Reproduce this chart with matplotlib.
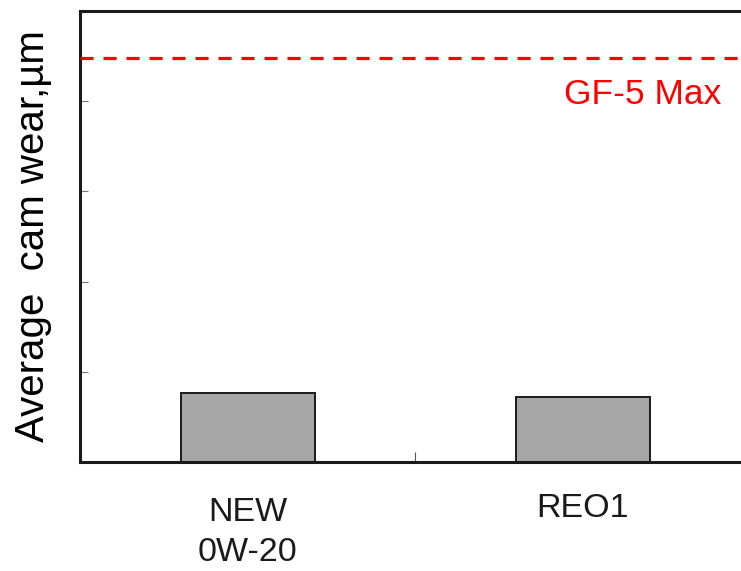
import matplotlib
matplotlib.use("Agg")
import matplotlib.pyplot as plt
from matplotlib.ticker import FixedLocator, NullFormatter
from matplotlib.transforms import ScaledTranslation

plt.rcParams['font.family'] = ['Liberation Sans', 'DejaVu Sans']

categories = ["NEW\n0W-20", "REO1"]
cam_wear = [15.3, 14.4]          # average cam wear, µm
gf5_max = 89.5                   # GF-5 limit, µm
y_ticks = [0, 20, 40, 60, 80, 100]

W, H = 741, 571
fig = plt.figure(figsize=(W / 100, H / 100), dpi=100)
ax = fig.add_axes([80 / W, (H - 462) / H, (750 - 80) / W, (462 - 11) / H])

positions = [0.5, 1.5]
ax.bar(positions, cam_wear, width=0.4, color="#a6a6a6",
       edgecolor="#1a1a1a", linewidth=1.4, zorder=2)

ax.axhline(gf5_max, color="#ff0000", linestyle=(0, (4.1, 3.1)), linewidth=2.3, zorder=3)
ax.text(1.445, gf5_max - 4.4, "GF-5 Max", color="#ff0000", fontsize=25.5,
        ha="left", va="top")

ax.set_xlim(0, 2)
ax.set_ylim(y_ticks[0], y_ticks[-1])

ax.set_xticks(positions)
ax.set_xticklabels(categories, fontsize=24.5, linespacing=1.38)
ax.tick_params(axis="x", which="major", length=0, pad=25, colors="#1a1a1a")
# the single-line label sits slightly higher
reo = ax.get_xticklabels()[1]
reo.set_transform(reo.get_transform() + ScaledTranslation(0, 4 / 100, fig.dpi_scale_trans))

ax.xaxis.set_minor_locator(FixedLocator([1]))
ax.tick_params(axis="x", which="minor", direction="in", length=7, width=0.8, color="#555555")

ax.set_yticks(y_ticks)
ax.yaxis.set_major_formatter(NullFormatter())
ax.tick_params(axis="y", direction="in", length=6, width=0.8, color="#777777")

for side in ["left", "bottom", "top", "right"]:
    ax.spines[side].set_linewidth(2.2)
    ax.spines[side].set_color("#1a1a1a")

ax.set_ylabel("Average  cam wear,µm", fontsize=29, labelpad=17)

fig.savefig("out.png", dpi=100)
